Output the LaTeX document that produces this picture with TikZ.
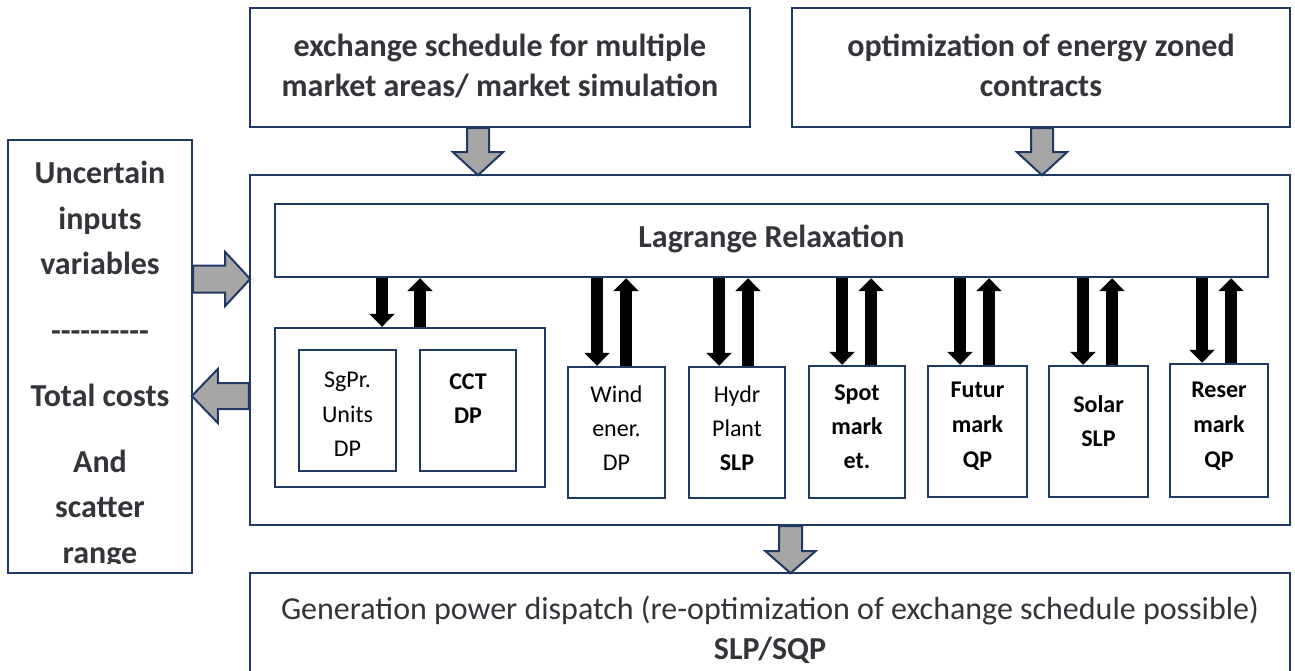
\documentclass[tikz,border=0pt]{standalone}
\usepackage{fontspec}
\setmainfont{Carlito}
\usetikzlibrary{arrows.meta,calc}

\definecolor{navy}{RGB}{31,56,100}
\definecolor{arrowgray}{RGB}{166,166,166}
\definecolor{txtgray}{RGB}{52,52,58}

\tikzset{
  frame/.style={draw=navy, line width=2.4pt, fill=white, inner sep=0pt, rectangle},
  bigtxt/.style={font=\fontsize{32}{40}\selectfont\bfseries, text=txtgray, align=center, inner sep=0pt},
  sidetxt/.style={font=\fontsize{32}{45.5}\selectfont\bfseries, text=txtgray, align=center, inner sep=0pt},
  subtxt/.style={font=\fontsize{24}{34}\selectfont, text=black, align=center, inner sep=0pt},
  subbold/.style={subtxt, font=\fontsize{24}{34}\selectfont\bfseries},
  graybody/.style={draw=navy, line width=2pt, fill=arrowgray, line join=miter},
  blackarrow/.style={line width=12pt, draw=black, -{Triangle[width=25pt,length=13pt]}},
}

% block arrow: start point, direction angle, length, half shaft, half head, head length
\newcommand\blockarrow[6]{%
  \draw[graybody, shift={#1}, rotate=#2]
    (0,-#4) -- ({#3-#6},-#4) -- ({#3-#6},-#5) -- (#3,0) -- ({#3-#6},#5)
    -- ({#3-#6},#4) -- (0,#4) -- cycle;}

\begin{document}
\begin{tikzpicture}[x=1pt,y=-1pt]
\clip (0,0) rectangle (1295,671);
\fill[white] (0,0) rectangle (1295,671);

% top input boxes
\node[frame, minimum width=500pt, minimum height=119pt] (xch) at (500,67.5) {};
\node[bigtxt] (xchT) at ($(xch.center)+(0,-2)$) {exchange schedule for multiple\\market areas/ market simulation};
\node[frame, minimum width=498pt, minimum height=119pt] (opt) at (1041,67.5) {};
\node[bigtxt] (optT) at ($(opt.center)+(0,-2)$) {optimization of energy zoned\\contracts};

% side box
\node[frame, minimum width=184pt, minimum height=433pt] (side) at (100,356.5) {};
\begin{scope}
  \clip (10,141) rectangle (190,563);
  \node[sidetxt, anchor=north] (sideT) at (100,161)
    {Uncertain\\inputs\\variables\\[21pt]-{}-{}-{}-{}-{}-{}-{}-{}-{}-\\[20pt]Total costs\\[20pt]And\\scatter\\range};
\end{scope}

% main block
\node[frame, minimum width=1040pt, minimum height=350pt] (main) at (770,350) {};
\node[frame, minimum width=993pt, minimum height=73pt] (lag) at (771.5,240.5) {};
\node[bigtxt] (lagT) at ($(lag.center)+(0,-2)$) {Lagrange Relaxation};

% unit group
\node[frame, minimum width=270pt, minimum height=159pt] (grp) at (410,407.5) {};
\node[frame, minimum width=97pt, minimum height=121pt] (sgpr) at (347.5,410.5) {};
\node[subtxt, anchor=north, font=\fontsize{24}{34.5}\selectfont] at ($(sgpr.north)+(0,23)$) {SgPr.\\Units\\DP};
\node[frame, minimum width=96pt, minimum height=121pt] (cct) at (468,410.5) {};
\node[subbold, anchor=north] at ($(cct.north)+(0,25)$) {CCT\\DP};

% subproblem boxes
\node[frame, minimum width=97pt, minimum height=131pt] (wind) at (616.5,432.5) {};
\node[subtxt, anchor=north] at ($(wind.north)+(0,20)$) {Wind\\ener.\\DP};
\node[frame, minimum width=96pt, minimum height=131pt] (hydr) at (737,432.5) {};
\node[subtxt, anchor=north] at ($(hydr.north)+(0,20)$) {Hydr\\Plant\\\textbf{SLP}};
\node[frame, minimum width=96pt, minimum height=132pt] (spot) at (857,432) {};
\node[subbold, anchor=north] at ($(spot.north)+(0,20)$) {Spot\\mark\\et.};
\node[frame, minimum width=99pt, minimum height=131pt] (futr) at (977.5,431.5) {};
\node[subbold, anchor=north, font=\fontsize{24}{35}\selectfont\bfseries] at ($(futr.north)+(0,17)$) {Futur\\mark\\QP};
\node[frame, minimum width=99pt, minimum height=131pt] (solr) at (1098.5,431.5) {};
\node[subbold, anchor=north] at ($(solr.north)+(0,31)$) {Solar\\SLP};
\node[frame, minimum width=98pt, minimum height=133pt] (resr) at (1219,430.5) {};
\node[subbold, anchor=north, font=\fontsize{24}{35}\selectfont\bfseries] at ($(resr.north)+(0,19)$) {Reser\\mark\\QP};

% output box
\node[frame, minimum width=1040pt, minimum height=120pt] (disp) at (770,633) {};
\node[bigtxt, font=\fontsize{32}{40}\selectfont, anchor=north] (dispT) at (770,596)
  {Generation power dispatch (re-optimization of exchange schedule possible)\\\textbf{SLP/SQP}};

% gray flow arrows
\coordinate (ax1) at (478,0);
\coordinate (ax2) at (1042,0);
\coordinate (ax3) at (790.5,0);
\coordinate (ay1) at (0,279);
\coordinate (ay2) at (0,396);
\blockarrow{(xch.south -| ax1)}{-90}{47}{11}{25}{23}
\blockarrow{(opt.south -| ax2)}{-90}{47}{11}{25}{23}
\blockarrow{(main.south -| ax3)}{-90}{47}{11.5}{25}{22}
\blockarrow{(side.east |- ay1)}{0}{57}{13.5}{27}{25}
\blockarrow{(main.west |- ay2)}{180}{57}{13}{27}{26}

% coordination arrows between master problem and subproblems
\foreach \bx/\xd/\xu in {grp/382/420, wind/597/626, hydr/719/748, spot/842/871,
                          futr/960/989, solr/1083/1112, resr/1202/1231} {
  \coordinate (d-\bx) at (\xd,0);
  \coordinate (u-\bx) at (\xu,0);
  \draw[blackarrow] (lag.south -| d-\bx) -- (\bx.north -| d-\bx);
  \draw[blackarrow] (\bx.north -| u-\bx) -- (lag.south -| u-\bx);
}
\end{tikzpicture}
\end{document}
